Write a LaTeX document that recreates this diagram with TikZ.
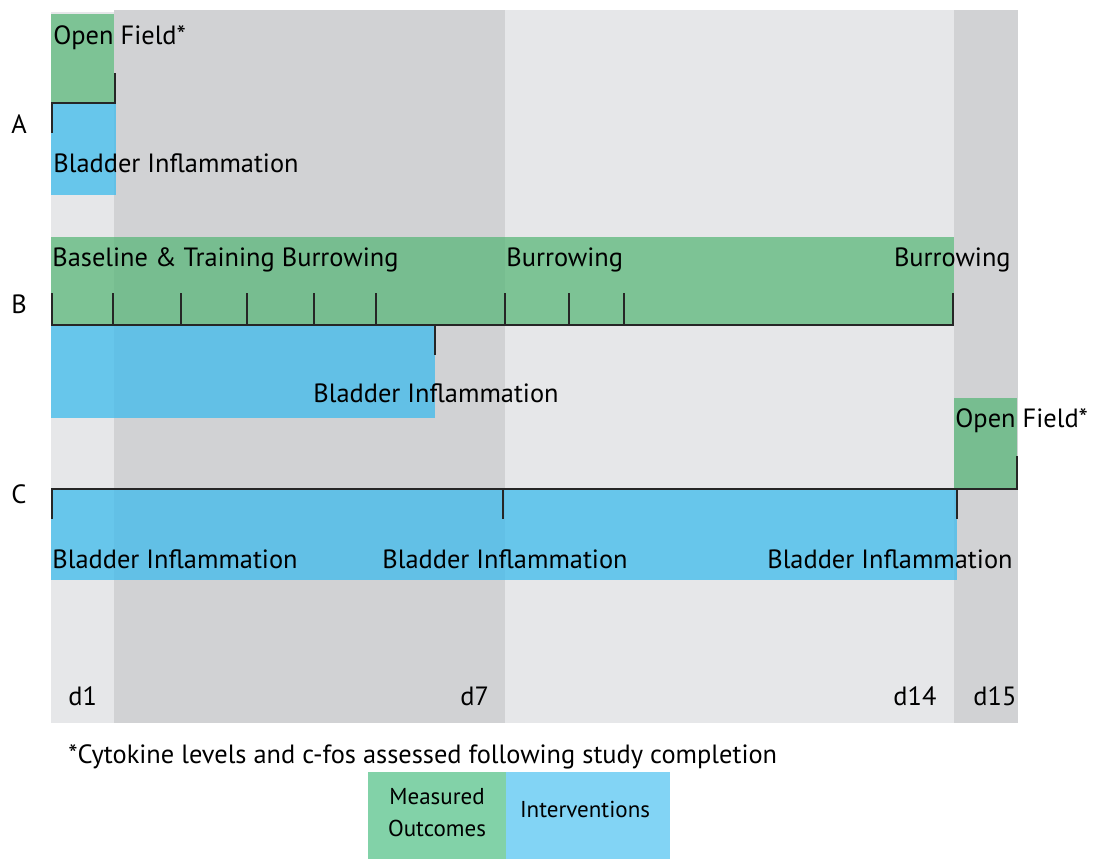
\documentclass[tikz,border=0pt]{standalone}
\usepackage{fontspec}
\setmainfont{PT Sans}
\definecolor{bglight}{RGB}{230,231,233}
\definecolor{bgdark}{RGB}{209,210,212}
\definecolor{measgreen}{RGB}{90,183,122}
\definecolor{intblue}{RGB}{61,187,237}
\definecolor{leggreen}{RGB}{130,210,168}
\definecolor{legblue}{RGB}{130,212,245}
\begin{document}
\begin{tikzpicture}[
        x=0.5pt, y=-0.5pt,
        txt/.style={inner sep=0pt, anchor=base west, font=\fontsize{13.2}{15}\selectfont},
        measured/.style={fill=measgreen, fill opacity=0.75},
        intervention/.style={fill=intblue, fill opacity=0.75},
        bar/.style={line width=0.8pt, black!85}
    ]
        \useasboundingbox (0,0) rectangle (1096,859);

        % day columns
        \fill[bglight] (51,12) rectangle (114,723);
        \fill[bgdark] (114,10) rectangle (505,723);
        \fill[bglight] (505,10) rectangle (954,723);
        \fill[bgdark] (954,10) rectangle (1018,723);

        % row A
        \fill[measured] (51,14) rectangle (114,103);
        \fill[intervention] (51,103) rectangle (116,195);
        \coordinate (a0) at (52,103);
        \coordinate (a1) at (115,103);
        \draw[bar] (a1) ++(0,-30) -- (a1) -- (a0) -- ++(0,30);
        \node[txt] (aout) at (53,44) {Open Field*};
        \node[txt] (aint) at (53,172) {Bladder Inflammation};
        \node[txt] (rowA) at (11,133) {A};

        % row B
        \fill[measured] (51,237) rectangle (954,325);
        \fill[intervention] (51,325) rectangle (435,418);
        \coordinate (b0) at (51,325);
        \coordinate (b1) at (954,325);
        \draw[bar] (b0) -- (b1);
        \foreach \x in {52,113,181,247,314,376,505,569,624,953}
            \draw[bar] (\x,325) -- ++(0,-32);
        \draw[bar] (435,325) -- ++(0,30);
        \node[txt] (bbase) at (52,266) {Baseline \& Training Burrowing};
        \node[txt] (bmid) at (506,266) {Burrowing};
        \node[txt, anchor=base east] (bend) at (1011,266) {Burrowing};
        \node[txt] (bint) at (313,402) {Bladder Inflammation};
        \node[txt] (rowB) at (11,313) {B};

        % row C
        \fill[measured] (954,398) rectangle (1017,489);
        \fill[intervention] (51,489) rectangle (957,580);
        \coordinate (c0) at (51,489);
        \coordinate (c1) at (1017,489);
        \draw[bar] (c1) ++(0,-33) -- (c1) -- (c0);
        \foreach \x in {52,503,957}
            \draw[bar] (\x,489) -- ++(0,30);
        \node[txt] (cout) at (955,427) {Open Field*};
        \node[txt] (cint1) at (52,568) {Bladder Inflammation};
        \node[txt] (cint7) at (382,568) {Bladder Inflammation};
        \node[txt, anchor=base east] (cint14) at (1013,568) {Bladder Inflammation};
        \node[txt] (rowC) at (11,503) {C};

        % days
        \node[txt] (d1) at (68,705) {d1};
        \node[txt] (d7) at (460,705) {d7};
        \node[txt] (d14) at (893,705) {d14};
        \node[txt] (d15) at (973,705) {d15};

        \node[txt] (note) at (68,763) {*Cytokine levels and c-fos assessed following study completion};

        % legend
        \fill[leggreen] (368,772) rectangle (506,859);
        \fill[legblue] (506,772) rectangle (670,859);
        \node[txt, anchor=center, font=\fontsize{11.5}{16}\selectfont, align=center] (legm) at (437,813) {Measured\\Outcomes};
        \node[txt, anchor=base, font=\fontsize{11.5}{16}\selectfont] (legi) at (585,817) {Interventions};
    \end{tikzpicture}
\end{document}
